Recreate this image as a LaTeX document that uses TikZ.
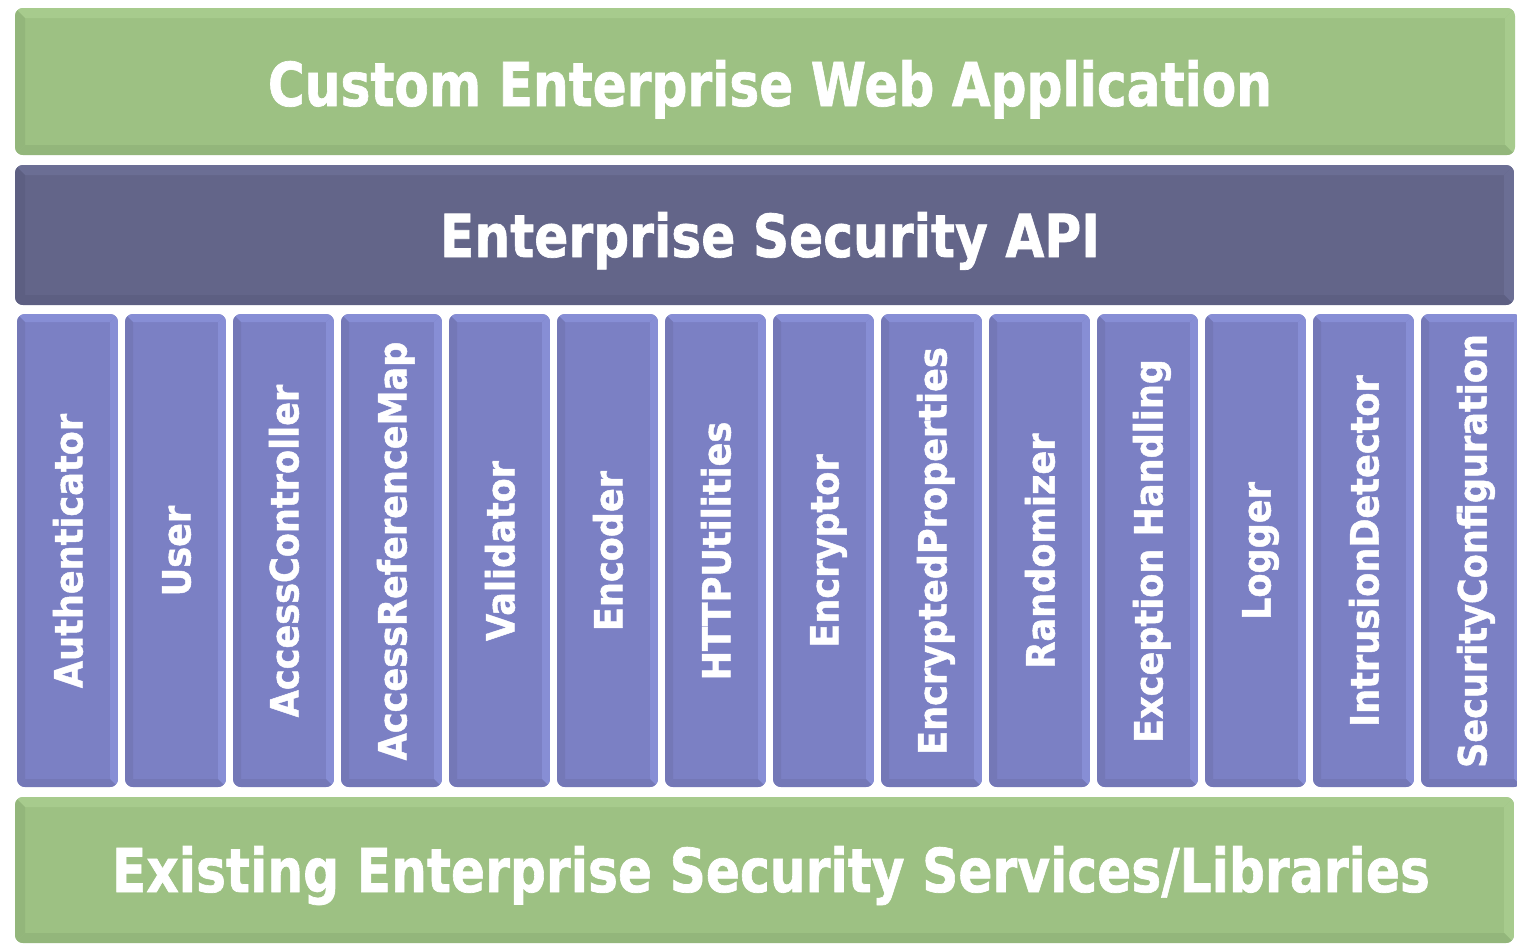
\documentclass[tikz,border=0pt]{standalone}
\usepackage{fontspec}
\usepackage{graphicx}
\setmainfont{DejaVu Sans}[BoldFeatures={FakeBold=1.2}]
\newfontfamily\lblfont{DejaVu Sans}[FakeStretch=0.9,BoldFeatures={FakeBold=1.2}]
\definecolor{gbase}{HTML}{9DC183}
\definecolor{glight}{HTML}{A7CB8D}
\definecolor{gdark}{HTML}{93B67B}
\definecolor{abase}{HTML}{636589}
\definecolor{alight}{HTML}{6B6E94}
\definecolor{adark}{HTML}{5D5F82}
\definecolor{cbase}{HTML}{7B80C4}
\definecolor{clight}{HTML}{878ED5}
\definecolor{cdark}{HTML}{7478B7}
% #1 x1, #2 y1, #3 x2, #4 y2, #5 base, #6 light, #7 dark, #8 bevel
\newcommand{\bevbox}[8]{%
  \begin{scope}
    \clip[rounded corners=8pt] (#1,#2) rectangle (#3,#4);
    \fill[#5] (#1,#2) rectangle (#3,#4);
    \fill[#6] (#1,#2) -- (#3,#2) -- ({#3-#8},{#2+#8}) -- ({#1+#8},{#2+#8}) -- cycle;
    \fill[#7] (#1,#2) -- ({#1+#8},{#2+#8}) -- ({#1+#8},{#4-#8}) -- (#1,#4) -- cycle;
    \fill[#6] (#3,#2) -- (#3,#4) -- ({#3-#8},{#4-#8}) -- ({#3-#8},{#2+#8}) -- cycle;
    \fill[#7] (#1,#4) -- ({#1+#8},{#4-#8}) -- ({#3-#8},{#4-#8}) -- (#3,#4) -- cycle;
  \end{scope}}
\begin{document}
\begin{tikzpicture}[x=1pt,y=-1pt,
  bartxt/.style={text=white,inner sep=0pt,anchor=base,font=\bfseries},
  lbl/.style={text=white,inner sep=0pt,anchor=base,rotate=90,
    font=\lblfont\bfseries\fontsize{39}{40}\selectfont}]
\useasboundingbox[fill=white] (0,0) rectangle (1517,946);
% bars
\bevbox{15}{8}{1515}{155}{gbase}{glight}{gdark}{10}
\bevbox{15}{165}{1514}{305}{abase}{alight}{adark}{10}
\bevbox{15}{797}{1514}{943}{gbase}{glight}{gdark}{10}
% columns
\foreach \i in {0,...,13}{
  \pgfmathsetmacro{\xa}{17+108*\i}
  \pgfmathsetmacro{\xb}{\xa+101}
  \bevbox{\xa}{314}{\xb}{787}{cbase}{clight}{cdark}{8}
}
\node[bartxt] (app) at (770,106) {\resizebox{1004pt}{46pt}{Custom Enterprise Web Application}};
\node[bartxt] (api) at (770,257) {\resizebox{660pt}{45pt}{Enterprise Security API}};
\node[bartxt] (lib) at (771,892) {\resizebox{1318pt}{46pt}{Existing Enterprise Security Services/Libraries}};
\foreach \t [count=\k from 0] in {Authenticator,User,AccessController,AccessReferenceMap,Validator,Encoder,HTTPUtilities,Encryptor,EncryptedProperties,Randomizer,Exception Handling,Logger,IntrusionDetector,SecurityConfiguration}{
  \node[lbl] (c\k) at ({17+108*\k+50.5+15},551) {\t};
}
\end{tikzpicture}
\end{document}
